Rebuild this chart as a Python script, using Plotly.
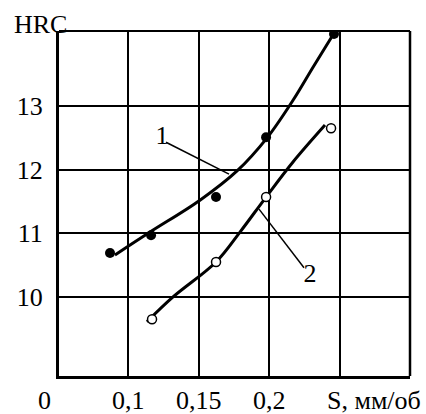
import plotly.graph_objects as go

# Series 1 (filled points) and its fitted curve
s1_x = [0.0872, 0.1163, 0.1624, 0.1979, 0.2461]
s1_y = [10.69, 10.97, 11.57, 12.51, 14.13]
c1_x = [0.0907, 0.1156, 0.1510, 0.1773, 0.1986, 0.2170, 0.2312, 0.2454]
c1_y = [10.66, 11.02, 11.52, 11.98, 12.50, 13.09, 13.61, 14.12]

# Series 2 (open points) and its fitted curve
s2_x = [0.1170, 0.1624, 0.1979, 0.2440]
s2_y = [9.65, 10.55, 11.57, 12.65]
c2_x = [0.1134, 0.1319, 0.1624, 0.1794, 0.1979, 0.2170, 0.2397]
c2_y = [9.61, 10.00, 10.55, 11.02, 11.57, 12.12, 12.70]

# Leader lines and curve labels
lead1_x = [0.1269, 0.1716]
lead1_y = [12.43, 11.93]
lead2_x = [0.1929, 0.2248]
lead2_y = [11.38, 10.46]
label_text = ["1", "2"]
label_x = [0.1241, 0.2291]
label_y = [12.51, 10.33]

# Ticks
x_ticks = [0.1, 0.15, 0.2, 0.25]
x_ticktext = ["0,1", "0,15", "0,2", ""]
y_ticks = [10, 11, 12, 13]
y_ticktext = ["10", "11", "12", "13"]

FONT = "Liberation Serif"
FS = 26

fig = go.Figure()
fig.add_trace(go.Scatter(x=c1_x, y=c1_y, mode="lines", line=dict(color="black", width=3, shape="spline"), hoverinfo="skip"))
fig.add_trace(go.Scatter(x=c2_x, y=c2_y, mode="lines", line=dict(color="black", width=3, shape="spline"), hoverinfo="skip"))
fig.add_trace(go.Scatter(x=s1_x, y=s1_y, mode="markers", marker=dict(color="black", size=10, symbol="circle")))
fig.add_trace(go.Scatter(x=s2_x, y=s2_y, mode="markers", marker=dict(color="white", size=9, symbol="circle", line=dict(color="black", width=1.5))))
fig.add_trace(go.Scatter(x=lead1_x, y=lead1_y, mode="lines", line=dict(color="black", width=1.5)))
fig.add_trace(go.Scatter(x=lead2_x, y=lead2_y, mode="lines", line=dict(color="black", width=1.5)))
fig.add_trace(go.Scatter(x=label_x, y=label_y, mode="text", text=label_text, textfont=dict(family=FONT, size=FS, color="black")))

annotations = [
    dict(text="HRC", xref="paper", yref="paper", x=-0.054, y=1.020, xanchor="center", yanchor="middle",
         showarrow=False, font=dict(family=FONT, size=FS, color="black")),
    dict(text="0", xref="paper", yref="paper", x=-0.04, y=-0.0696, xanchor="center", yanchor="middle",
         showarrow=False, font=dict(family=FONT, size=FS, color="black")),
    dict(text="S, мм/об", xref="paper", yref="paper", x=0.897, y=-0.0696, xanchor="center", yanchor="middle",
         showarrow=False, font=dict(family=FONT, size=FS, color="black")),
]
for tv, tt in zip(x_ticks, x_ticktext):
    if tt:
        annotations.append(dict(text=tt, xref="x", yref="paper", x=tv, y=-0.0696, xanchor="center",
                                yanchor="middle", showarrow=False, font=dict(family=FONT, size=FS, color="black")))

fig.update_layout(
    width=426, height=414,
    margin=dict(l=59, r=16, t=31, b=38, autoexpand=False),
    paper_bgcolor="white", plot_bgcolor="white",
    showlegend=False,
    font=dict(family=FONT, size=FS, color="black"),
    xaxis=dict(range=[0.051, 0.300], tickvals=x_ticks, ticktext=x_ticktext, showticklabels=False,
               showgrid=True, gridcolor="black", gridwidth=1.5,
               showline=True, linecolor="black", linewidth=3,
               ticks="", zeroline=False, automargin=False),
    yaxis=dict(range=[8.759, 14.178], tickvals=y_ticks, ticktext=y_ticktext,
               showgrid=True, gridcolor="black", gridwidth=1.5,
               showline=True, linecolor="black", linewidth=3,
               ticks="", zeroline=False, ticklabelstandoff=8, automargin=False,
               tickfont=dict(family=FONT, size=FS, color="black")),
    shapes=[
        dict(type="line", xref="paper", yref="paper", x0=0, x1=1, y0=1, y1=1, line=dict(color="black", width=2)),
        dict(type="line", xref="paper", yref="paper", x0=1, x1=1, y0=0, y1=1, line=dict(color="black", width=2.5)),
    ],
    annotations=annotations,
)

fig.write_html("out.html", config={"displayModeBar": False},
               post_script="document.body.style.margin='0';document.body.style.overflow='hidden';")
